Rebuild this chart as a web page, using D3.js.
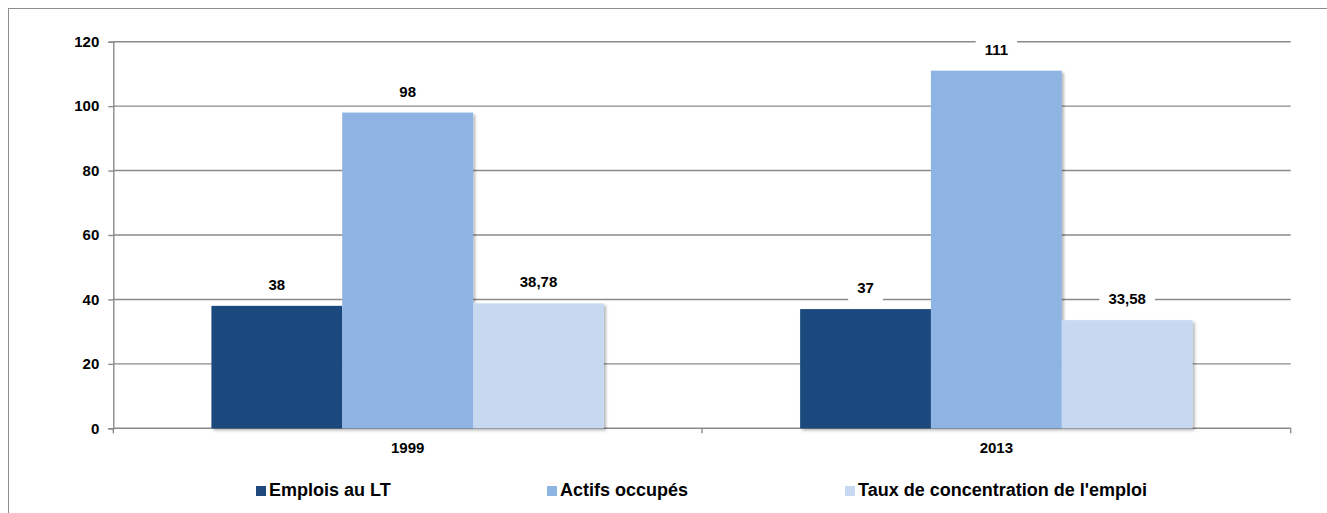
<!DOCTYPE html>
<html lang="fr">
    <head>
        <meta charset="utf-8">
        <title>Emplois au LT</title>
        <script type="text/javascript" src="https://cdn.jsdelivr.net/npm/d3@7/dist/d3.min.js"></script>
        <style type="text/css">
        body {
            margin: 0;
            background: #fff;
            }
        text {
            font-family: "Liberation Sans", Arial, sans-serif;
            font-weight: bold;
            fill: #000;
            }
        .grid line {
            stroke: #8a8a8a;
            stroke-width: 1.4px;
            }
        </style>
    </head>
    <body>
        <script type="text/javascript">

            //The data.
            var years = ["1999", "2013"];
            var seriesNames = ["Emplois au LT", "Actifs occupés", "Taux de concentration de l'emploi"];
            var emplois = [38, 37];
            var actifs = [98, 111];
            var taux = [38.78, 33.58];
            var yTicks = [0, 20, 40, 60, 80, 100, 120];
            var colors = ["#1f497d", "#8eb4e3", "#c6d9f1"];

            var allValues = [emplois, actifs, taux];

            //Size of the picture and the plot area inside it.
            var W = 1327, H = 513;
            var margin = {top: 41.7, left: 113.3, right: W - 1290.7, bottom: H - 428.3};
            var width = W - margin.left - margin.right;
            var height = H - margin.top - margin.bottom;
            var legendX = [256, 547, 845];   // left edge of each legend swatch

            var svg = d3.select("body")
                        .append("svg")
                            .attr("width", W)
                            .attr("height", H);

            //soft shadow under the bars
            var defs = svg.append("defs");
            defs.append("filter")
                .attr("id", "shadow")
                .attr("x", "-10%").attr("y", "-10%")
                .attr("width", "130%").attr("height", "130%")
              .append("feDropShadow")
                .attr("dx", 2).attr("dy", 2)
                .attr("stdDeviation", 1.5)
                .attr("flood-color", "#000")
                .attr("flood-opacity", 0.3);

            //outer frame (runs past the right and bottom edges)
            svg.append("rect")
                .attr("x", 8.5).attr("y", 8.5)
                .attr("width", W + 20).attr("height", H + 20)
                .attr("fill", "none")
                .attr("stroke", "#8f8f8f")
                .attr("stroke-width", 1);

            var g = svg.append("g")
                .attr("transform", "translate(" + margin.left + "," + margin.top + ")");

            //Scales
            var x0 = d3.scaleBand().domain(years).range([0, width]).padding(0);
            var x1 = d3.scaleBand().domain(seriesNames).range([0, x0.bandwidth()])
                        .paddingInner(0).paddingOuter(0.75);
            var yScale = d3.scaleLinear().domain([0, 120]).range([height, 0]);
            var cScale = d3.scaleOrdinal().domain(seriesNames).range(colors);

            //Gridlines
            g.append("g")
                .attr("class", "grid")
                .selectAll("line")
                .data(yTicks.filter(function(d) { return d > 0; }))
                .enter().append("line")
                    .attr("x1", 0)
                    .attr("x2", width)
                    .attr("y1", function(d) { return yScale(d); })
                    .attr("y2", function(d) { return yScale(d); });

            //Y axis
            var yAxis = d3.axisLeft(yScale)
                .tickValues(yTicks)
                .tickSize(5)
                .tickPadding(9);
            var yG = g.append("g").call(yAxis);
            yG.selectAll("text").style("font-size", "15px");

            //X axis, ticks at the band edges
            var xG = g.append("g").attr("transform", "translate(0," + height + ")");
            xG.append("line")
                .attr("x1", 0).attr("x2", width)
                .attr("y1", 0).attr("y2", 0);
            xG.selectAll(".xtick")
                .data([0].concat(years.map(function(d) { return x0(d) + x0.bandwidth(); })))
                .enter().append("line")
                    .attr("class", "xtick")
                    .attr("x1", function(d) { return d; })
                    .attr("x2", function(d) { return d; })
                    .attr("y1", 0).attr("y2", 5);
            xG.selectAll(".xlab")
                .data(years)
                .enter().append("text")
                    .attr("class", "xlab")
                    .attr("x", function(d) { return x0(d) + x0.bandwidth() / 2; })
                    .attr("y", 25)
                    .attr("text-anchor", "middle")
                    .style("font-size", "15px")
                    .text(function(d) { return d; });

            //axis lines share the gridline grey
            svg.selectAll(".domain, .tick line, .xtick").attr("stroke", "#8a8a8a").attr("stroke-width", 1.4);
            xG.select("line").attr("stroke", "#8a8a8a").attr("stroke-width", 1.4);
            yG.selectAll("text").attr("fill", "#000");

            //build bar records
            var bars = [];
            for (var i = 0; i < years.length; i++) {
                for (var s = 0; s < seriesNames.length; s++) {
                    bars.push({year: years[i], series: seriesNames[s], value: allValues[s][i]});
                }
            }

            g.append("g")
                .attr("filter", "url(#shadow)")
                .selectAll("rect")
                .data(bars)
                .enter().append("rect")
                    .attr("x", function(d) { return x0(d.year) + x1(d.series); })
                    .attr("y", function(d) { return yScale(d.value); })
                    .attr("width", x1.bandwidth())
                    .attr("height", function(d) { return height - yScale(d.value); })
                    .attr("fill", function(d) { return cScale(d.series); });

            //Value labels with a white box behind them
            var fmt = function(v) { return String(v).replace(".", ","); };
            var labels = g.append("g").selectAll(".vlab")
                .data(bars)
                .enter().append("g")
                    .attr("class", "vlab")
                    .attr("transform", function(d) {
                        return "translate(" + (x0(d.year) + x1(d.series) + x1.bandwidth() / 2) + "," + (yScale(d.value) - 16) + ")";
                    });
            var boxes = labels.append("rect").attr("fill", "#fff");
            labels.append("text")
                .attr("text-anchor", "middle")
                .style("font-size", "15px")
                .text(function(d) { return fmt(d.value); })
                .each(function(d) { d.tw = this.getComputedTextLength(); });
            boxes
                .attr("x", function(d) { return -d.tw / 2 - 9; })
                .attr("y", -17)
                .attr("width", function(d) { return d.tw + 18; })
                .attr("height", 25);

            //Legend
            var legend = svg.selectAll(".legend")
                .data(seriesNames)
                .enter().append("g")
                    .attr("class", "legend")
                    .attr("transform", function(d, i) { return "translate(" + legendX[i] + ",496)"; });
            legend.append("rect")
                .attr("x", 0).attr("y", -10)
                .attr("width", 10).attr("height", 10)
                .attr("fill", function(d) { return cScale(d); });
            legend.append("text")
                .attr("x", 13)
                .style("font-size", "18px")
                .text(function(d) { return d; });
        </script>
    </body>
</html>
